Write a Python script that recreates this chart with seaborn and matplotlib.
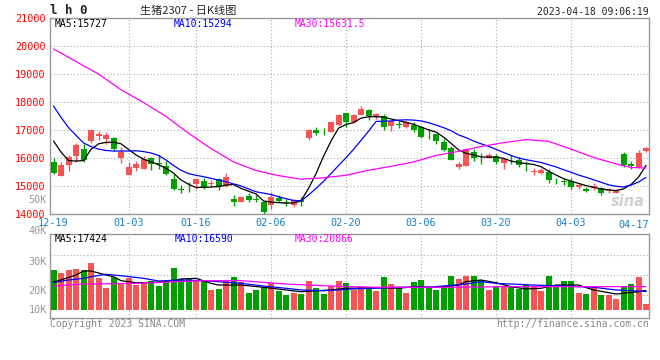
import numpy as np
import pandas as pd
import matplotlib
matplotlib.use('Agg')
import matplotlib.pyplot as plt
import seaborn as sns

### data (生猪2307, daily candles 12-19 .. 04-18)

opens = [15840, 15345, 15740, 16060, 16330, 16585, 16775, 16655, 16725, 15990,
         15380, 15620, 15585, 15975, 15800, 15700, 15225, 14870, 14860, 15050,
         15165, 15070, 15225, 14990, 14535, 14415, 14610, 14535, 14430, 14300,
         14560, 14410, 14310, 14475, 16690, 17010, 17040, 16915, 17190, 17605,
         17270, 17525, 17725, 17465, 17510, 17155, 17225, 17095, 17190, 17095,
         16890, 16835, 16570, 16335, 15665, 15700, 16200, 16040, 16000, 16055,
         15800, 15930, 15915, 15800, 15480, 15440, 15485, 15210, 15140, 15165,
         14950, 14870, 14905, 14930, 14820, 14750, 16120, 15785, 15680, 16235]
highs = [16000, 15860, 16090, 16520, 16475, 17010, 16950, 16940, 16760, 16400,
         15840, 15880, 16050, 16020, 16090, 15880, 15430, 15010, 15130, 15250,
         15260, 15190, 15290, 15465, 14655, 14620, 14750, 14655, 14450, 14770,
         14655, 14510, 14535, 14595, 17020, 17110, 17070, 17280, 17580, 17610,
         17560, 17870, 17760, 17620, 17580, 17370, 17310, 17310, 17270, 17150,
         17040, 16840, 16680, 16415, 15845, 16360, 16320, 16180, 16180, 16120,
         15940, 16090, 16020, 15880, 15620, 15620, 15580, 15290, 15290, 15260,
         15050, 14950, 15090, 14960, 14920, 14870, 16200, 15880, 16270, 16390]
lows = [15400, 15340, 15520, 15840, 15840, 16540, 16630, 16490, 16240, 15820,
        15380, 15520, 15580, 15550, 15610, 15380, 14830, 14725, 14770, 14870,
        14870, 14965, 14845, 14965, 14270, 14400, 14415, 14415, 13980, 14155,
        14415, 14275, 14235, 14275, 16620, 16830, 16830, 16910, 17130, 17110,
        17250, 17520, 17370, 17400, 17010, 16950, 17070, 17050, 16915, 16715,
        16655, 16500, 16250, 15915, 15610, 15700, 15880, 15760, 15990, 15770,
        15580, 15760, 15650, 15520, 15380, 15400, 15080, 15050, 15010, 14880,
        14880, 14760, 14860, 14680, 14740, 14720, 15660, 15580, 15640, 16200]
closes = [15470, 15755, 16020, 16450, 15915, 16990, 16860, 16800, 16300, 16200,
          15655, 15760, 15940, 15790, 15770, 15420, 14870, 14825, 14830, 15225,
          14965, 15090, 14965, 15310, 14415, 14585, 14475, 14490, 14040, 14590,
          14450, 14385, 14475, 14420, 17010, 16870, 17025, 17270, 17550, 17270,
          17550, 17750, 17490, 17585, 17095, 17310, 17170, 17270, 17010, 16750,
          16870, 16595, 16270, 15915, 15760, 16300, 16000, 16020, 16095, 15845,
          15940, 15910, 15725, 15790, 15510, 15560, 15200, 15195, 15130, 14950,
          15025, 14810, 14985, 14750, 14840, 14830, 15740, 15700, 16180, 16335]
# volume in thousands of lots
volumes = [35.7, 33.3, 35.7, 36.6, 35.7, 42.2, 28.8, 19.9, 29.7, 24.4,
           28.6, 22.3, 25.0, 25.9, 21.4, 26.2, 37.8, 27.9, 27.7, 26.8,
           26.2, 17.9, 18.8, 26.2, 29.7, 24.7, 15.4, 17.9, 20.8, 24.4,
           17.2, 13.4, 15.4, 14.3, 26.2, 19.9, 14.6, 21.4, 26.2, 24.4,
           17.9, 20.3, 20.3, 17.2, 29.5, 23.2, 20.3, 15.4, 25.3, 26.8,
           19.4, 17.9, 21.4, 30.4, 27.7, 30.6, 30.6, 26.8, 17.9, 21.4,
           21.4, 20.3, 18.5, 22.3, 21.4, 17.2, 30.4, 20.8, 25.9, 25.9,
           15.4, 14.3, 20.3, 13.4, 13.4, 9.8, 21.4, 23.2, 29.5, 5.4]

ma5 = [16600, 16200, 15900, 15880, 15900, 16300, 16500, 16550, 16560, 16500,
       16300, 16100, 15950, 15850, 15750, 15620, 15450, 15200, 15050, 14930,
       14940, 14950, 14965, 15020, 15040, 14900, 14800, 14700, 14450, 14410,
       14390, 14370, 14380, 14450, 14900, 15430, 16050, 16600, 17060, 17190,
       17260, 17420, 17470, 17470, 17460, 17390, 17330, 17270, 17200, 17100,
       17000, 16920, 16740, 16520, 16280, 16160, 16100, 16030, 16020, 16020,
       15980, 15880, 15830, 15790, 15760, 15680, 15520, 15380, 15250, 15160,
       15080, 15000, 14940, 14880, 14850, 14820, 14880, 15040, 15300, 15727]
ma10 = [17850, 17450, 17080, 16800, 16530, 16400, 16310, 16260, 16240, 16240,
        16240, 16250, 16220, 16170, 16080, 15920, 15720, 15550, 15430, 15370,
        15320, 15260, 15200, 15140, 15060, 14990, 14880, 14780, 14730, 14680,
        14600, 14530, 14470, 14450, 14660, 14900, 15150, 15430, 15720, 16000,
        16300, 16620, 16950, 17300, 17310, 17320, 17350, 17360, 17350, 17320,
        17260, 17170, 17080, 16970, 16820, 16720, 16600, 16500, 16410, 16300,
        16190, 16080, 15990, 15930, 15880, 15830, 15750, 15670, 15570, 15480,
        15380, 15300, 15210, 15120, 15030, 14980, 14950, 15020, 15130, 15294]
ma30_idx = [0, 3, 6, 9, 12, 15, 18, 21, 24, 27, 30, 33, 36, 39, 42, 45, 48, 51,
            54, 57, 60, 63, 66, 69, 72, 75, 77, 79]
ma30 = [19900, 19450, 19000, 18440, 17980, 17480, 16880, 16330, 15850, 15540,
        15360, 15230, 15280, 15370, 15550, 15690, 15850, 16080, 16230, 16400,
        16540, 16650, 16590, 16310, 16010, 15780, 15650, 15631.5]

vol_ma5_idx = [0, 1, 3, 4, 5, 7, 8, 9, 11, 12, 15, 17, 19, 21, 22, 25, 28, 31, 33,
               35, 37, 39, 43, 46, 48, 51, 54, 55, 57, 59, 61, 63, 65, 67, 70, 72,
               75, 78, 79]
vol_ma5 = [25.3, 26.8, 31.3, 34.8, 34.8, 31.3, 29.7, 26.2, 24.4, 24.4, 25.3, 27.7,
           28.3, 23.8, 22.3, 22.3, 20.3, 17.9, 16.3, 17.2, 17.9, 19.4, 19.9, 19.4,
           20.8, 20.3, 22.3, 25.3, 26.8, 24.4, 20.8, 18.8, 19.4, 22.3, 22.3, 17.9,
           14.3, 16.3, 17.4]
vol_ma10_idx = [0, 2, 4, 5, 7, 9, 12, 14, 17, 20, 22, 25, 28, 31, 33, 36, 40, 46,
                50, 55, 57, 59, 64, 68, 72, 75, 79]
vol_ma10 = [24.4, 26.8, 28.3, 29.7, 31.9, 30.6, 28.3, 25.9, 26.8, 26.2, 25.3, 23.8,
            21.4, 19.4, 17.9, 17.2, 18.8, 20.3, 20.3, 23.2, 25.3, 23.8, 22.3, 21.4,
            20.3, 17.9, 16.6]
vol_ma30_idx = [0, 4, 11, 20, 25, 31, 37, 43, 53, 60, 68, 79]
vol_ma30 = [21.4, 23.2, 23.8, 26.2, 26.2, 23.2, 21.4, 20.3, 20.3, 20.8, 20.8, 20.9]

date_labels = ['12-19', '01-03', '01-16', '02-06', '02-20', '03-06', '03-20', '04-03', '04-17']
date_idx = [0, 10, 19, 29, 39, 49, 59, 69, 78]
price_ticks = [14000, 15000, 16000, 17000, 18000, 19000, 20000, 21000]

RED = '#f65454'
GREEN = '#00a000'
GRID = '#aaaaaa'
FRAME = '#999999'

sns.set_theme(style='white')
plt.rcParams['font.family'] = ['DejaVu Sans Mono', 'Noto Sans CJK SC']

W, H = 660, 360


def px_box(l, t, r, b):
    return [l / W, 1 - b / H, (r - l) / W, (b - t) / H]


def fx(x):
    return x / W


def fy(y):
    return 1 - y / H


fig = plt.figure(figsize=(6.6, 3.6), dpi=100)
ax = fig.add_axes(px_box(50, 18.3, 649, 213.5))
axv = fig.add_axes(px_box(50, 234.3, 649, 318.3))

df = pd.DataFrame({'i': range(len(opens)), 'o': opens, 'h': highs, 'l': lows,
                   'c': closes, 'v': volumes, 'ma5': ma5, 'ma10': ma10})
df['dir'] = np.where(df.c >= df.o, 'up', 'down')
colors = np.where(df.dir == 'up', RED, GREEN)
pal = {'up': RED, 'down': GREEN}

### price panel
ax.vlines(df.i, df.l, df.h, colors=colors, lw=1, zorder=3)
body = (df.c - df.o).abs().clip(lower=18)
ax.bar(df.i, body, bottom=df[['o', 'c']].min(axis=1), width=0.8, color=colors,
       lw=0, zorder=4)

sns.lineplot(data=df, x='i', y='ma5', color='black', lw=0.9, ax=ax, zorder=5)
sns.lineplot(data=df, x='i', y='ma10', color='#0000ff', lw=0.9, ax=ax, zorder=5)
sns.lineplot(x=ma30_idx, y=ma30, color='#ff00ff', lw=0.9, ax=ax, zorder=5)

ax.set_xlim(-0.47, 79.4)
ax.set_ylim(14000, 21000)
ax.set_yticks(price_ticks)
ax.set_yticklabels([str(t) for t in price_ticks], color='#ff0000', fontsize=7.3)
ax.yaxis.grid(True, ls=(0, (1, 2)), color=GRID, lw=0.8)
ax.set_xticks(date_idx[:-1])
ax.set_xticklabels(date_labels[:-1], color='#1a7fc1', fontsize=7.3)
ax.tick_params(axis='both', length=0, pad=3)
ax.set_xlabel('')
ax.set_ylabel('')
ax.text(1.0, -0.035, date_labels[-1], transform=ax.transAxes, ha='right', va='top',
        color='#1a7fc1', fontsize=7.3)
ax.text(76.6, 14420, 'sina', color='#d0d0d0', fontsize=10.5, style='italic',
        fontweight='bold', ha='center', va='center', zorder=1,
        family='DejaVu Sans')

### volume panel
sns.barplot(data=df, x='i', y='v', hue='dir', palette=pal, native_scale=True,
            width=0.8, dodge=False, legend=False, saturation=1, errorbar=None,
            lw=0, ax=axv, zorder=3)
sns.lineplot(x=vol_ma5_idx, y=vol_ma5, color='black', lw=0.9, ax=axv, zorder=5)
sns.lineplot(x=vol_ma10_idx, y=vol_ma10, color='#0000ff', lw=0.9, ax=axv, zorder=5)
sns.lineplot(x=vol_ma30_idx, y=vol_ma30, color='#ff00ff', lw=0.9, ax=axv, zorder=5)
axv.set_xlim(-0.47, 79.4)
axv.set_ylim(-7.4, 67.6)
axv.set_xticks([])
axv.set_yticks([])
axv.set_xlabel('')
axv.set_ylabel('')
for yv in [49.1, 31.2, 13.4]:
    axv.axhline(yv, ls=(0, (1, 2)), color=GRID, lw=0.8, zorder=1)

for a in (ax, axv):
    for x in date_idx[1:-1]:
        a.axvline(x, ls=(0, (1, 2)), color=GRID, lw=0.8, zorder=1)
    for s in a.spines.values():
        s.set_color(FRAME)
        s.set_linewidth(1)

### texts
fig.text(fx(50), fy(11), 'l h 0', fontsize=9, fontweight='bold', va='center')
fig.text(fx(140), fy(11), '生猪2307 - 日K线图', fontsize=8, va='center',
         family=['Noto Sans CJK SC', 'DejaVu Sans'])
fig.text(fx(649), fy(12), '2023-04-18 09:06:19', fontsize=7, ha='right', va='center')

fig.text(fx(55), fy(24), 'MA5:15727', fontsize=7, va='center', color='black')
fig.text(fx(174), fy(24), 'MA10:15294', fontsize=7, va='center', color='#0000ff')
fig.text(fx(295), fy(24), 'MA30:15631.5', fontsize=7, va='center', color='#ff00ff')
fig.text(fx(55), fy(238.5), 'MA5:17424', fontsize=7, va='center', color='black')
fig.text(fx(175), fy(238.5), 'MA10:16590', fontsize=7, va='center', color='#0000ff')
fig.text(fx(295), fy(238.5), 'MA30:20866', fontsize=7, va='center', color='#ff00ff')

fig.text(fx(47), fy(200), '50K', fontsize=7.3, ha='right', va='center', color=FRAME)
for lab, yp in zip(['40K', '30K', '20K', '10K'], [230.7, 261.7, 290.7, 310]):
    fig.text(fx(47), fy(yp), lab, fontsize=7.3, ha='right', va='center', color=FRAME)

fig.text(fx(50), fy(324), 'Copyright 2023 SINA.COM', fontsize=7, va='center',
         color='#888888')
fig.text(fx(649), fy(324), 'http://finance.sina.com.cn', fontsize=7, ha='right',
         va='center', color='#888888')

fig.savefig('out.png', dpi=100)
